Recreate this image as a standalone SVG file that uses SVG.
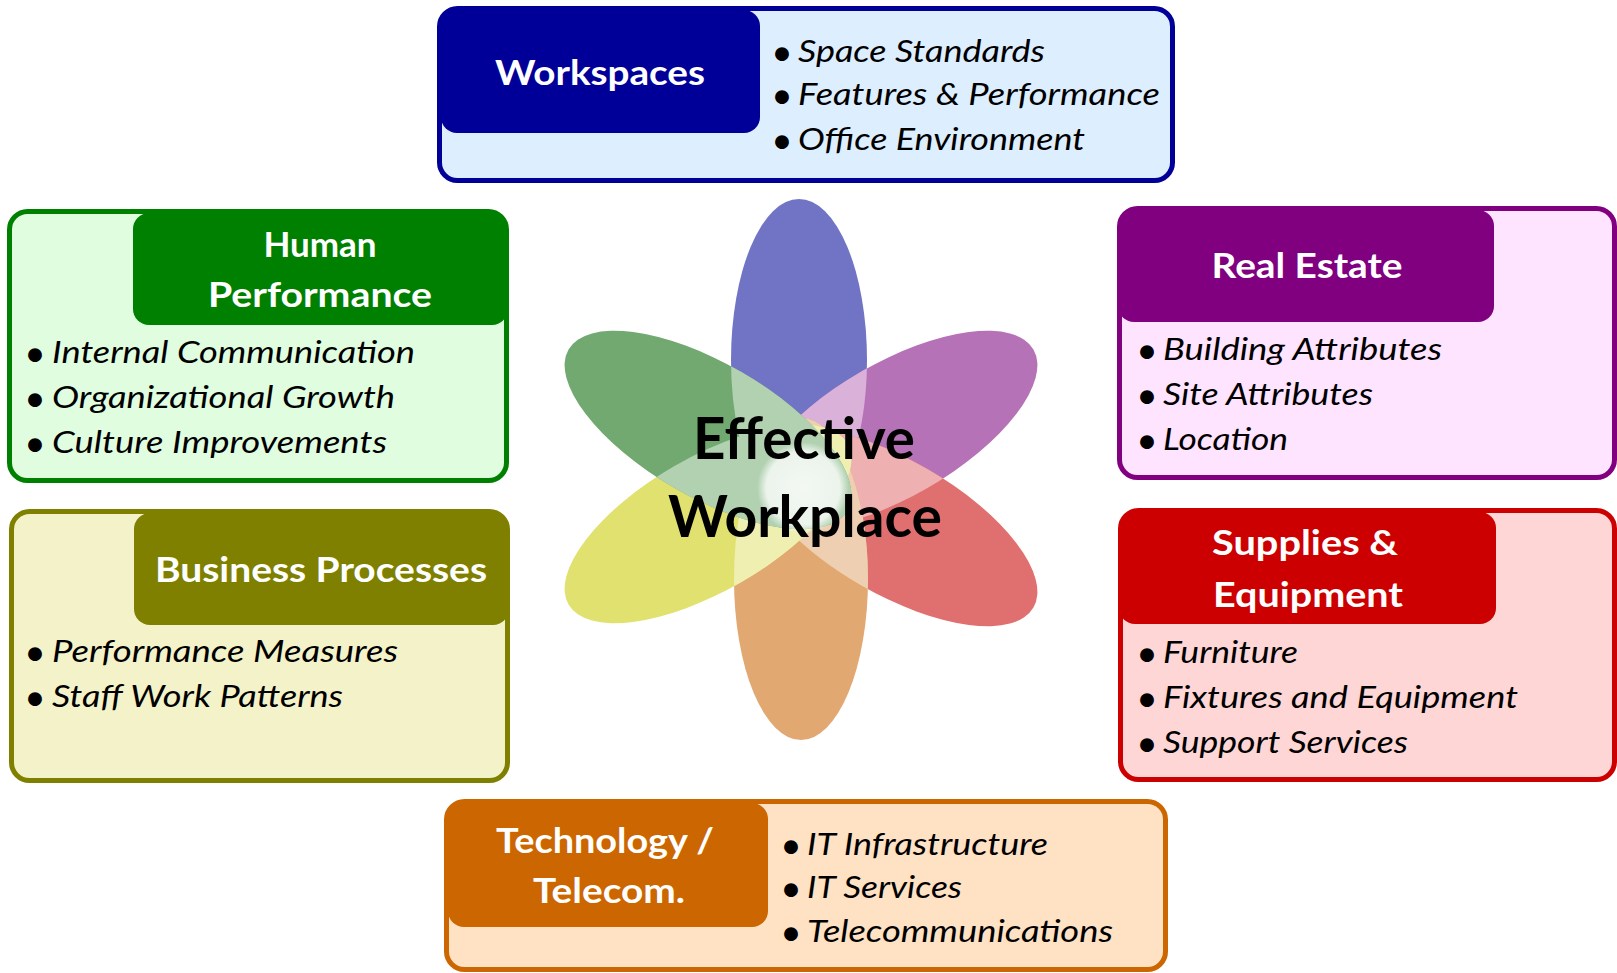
<svg xmlns="http://www.w3.org/2000/svg" xmlns:xlink="http://www.w3.org/1999/xlink" width="1617" height="973" viewBox="0 0 1617 973">
<style>
.box{stroke-width:5}
.hd{font-family:Lato,"Liberation Sans",sans-serif;font-weight:700;font-size:35px;fill:#fff;text-anchor:middle}
.it{font-family:Lato,"Liberation Sans",sans-serif;font-style:italic;font-size:31px;fill:#000}
.dot{font-family:Lato,"Liberation Sans",sans-serif;font-size:37px;fill:#000;text-anchor:middle}
.ctr{font-family:Lato,"Liberation Sans",sans-serif;font-weight:700;font-size:57px;fill:#000;text-anchor:middle}
</style>
<defs>
<ellipse id="pB" cx="799" cy="360" rx="68" ry="161"/>
<ellipse id="pP" cx="894" cy="430" rx="161" ry="67" transform="rotate(-30 894 430)"/>
<ellipse id="pR" cx="894" cy="527" rx="161" ry="67" transform="rotate(30 894 527)"/>
<ellipse id="pO" cx="801" cy="579" rx="67" ry="161"/>
<ellipse id="pY" cx="708" cy="524" rx="161" ry="67" transform="rotate(-30 708 524)"/>
<ellipse id="pG" cx="708" cy="430" rx="161" ry="67" transform="rotate(30 708 430)"/>
<clipPath id="cP"><use xlink:href="#pB"/></clipPath>
<clipPath id="cR"><use xlink:href="#pB"/><use xlink:href="#pP"/></clipPath>
<clipPath id="cO"><use xlink:href="#pB"/><use xlink:href="#pP"/><use xlink:href="#pR"/></clipPath>
<clipPath id="cY"><use xlink:href="#pB"/><use xlink:href="#pP"/><use xlink:href="#pR"/><use xlink:href="#pO"/></clipPath>
<clipPath id="cG"><use xlink:href="#pB"/><use xlink:href="#pP"/><use xlink:href="#pR"/><use xlink:href="#pO"/><use xlink:href="#pY"/></clipPath>
<radialGradient id="glow">
<stop offset="0" stop-color="#fff" stop-opacity="0.85"/>
<stop offset="0.8" stop-color="#fff" stop-opacity="0.75"/>
<stop offset="1" stop-color="#fff" stop-opacity="0"/>
</radialGradient>
</defs>
<rect width="1617" height="973" fill="#fff"/>

<g id="flower">
<use xlink:href="#pB" fill="#7174C4"/>
<use xlink:href="#pP" fill="#B672B6"/>
<use xlink:href="#pP" fill="#D9B1D9" clip-path="url(#cP)"/>
<use xlink:href="#pR" fill="#E07070"/>
<use xlink:href="#pR" fill="#EEB0B0" clip-path="url(#cR)"/>
<use xlink:href="#pO" fill="#E1A872"/>
<use xlink:href="#pO" fill="#EECFB1" clip-path="url(#cO)"/>
<use xlink:href="#pY" fill="#E1E170"/>
<use xlink:href="#pY" fill="#EFEFB1" clip-path="url(#cY)"/>
<use xlink:href="#pG" fill="#71A971"/>
<use xlink:href="#pG" fill="#B1D1B1" clip-path="url(#cG)"/>
<circle cx="803" cy="488" r="46" fill="url(#glow)"/>
<text class="ctr" x="804" y="459" textLength="222" lengthAdjust="spacingAndGlyphs">Effective</text>
<text class="ctr" x="805" y="537" textLength="274" lengthAdjust="spacingAndGlyphs">Workplace</text>
</g>

<g id="workspaces">
<rect x="439.5" y="8.5" width="733" height="172" rx="18" fill="#DDEEFF"/>
<rect x="441" y="10" width="319" height="123" rx="16" fill="#000099"/>
<rect class="box" x="439.5" y="8.5" width="733" height="172" rx="18" fill="none" stroke="#000099"/>
<text class="hd" x="600" y="85" textLength="210" lengthAdjust="spacingAndGlyphs">Workspaces</text>
<text class="dot" x="782" y="65">•</text>
<text class="it" x="798" y="62" textLength="247" lengthAdjust="spacingAndGlyphs">Space Standards</text>
<text class="dot" x="782" y="108">•</text>
<text class="it" x="798" y="105" textLength="362" lengthAdjust="spacingAndGlyphs">Features &amp; Performance</text>
<text class="dot" x="782" y="153">•</text>
<text class="it" x="798" y="150" textLength="287" lengthAdjust="spacingAndGlyphs">Office Environment</text>
</g>

<g id="human-performance">
<rect x="9.5" y="211.5" width="497" height="269" rx="18" fill="#E0FDE0"/>
<rect x="133" y="213" width="375" height="112" rx="16" fill="#008000"/>
<rect class="box" x="9.5" y="211.5" width="497" height="269" rx="18" fill="none" stroke="#008000"/>
<text class="hd" x="320" y="257">Human</text>
<text class="hd" x="320" y="307" textLength="224" lengthAdjust="spacingAndGlyphs">Performance</text>
<text class="dot" x="35" y="366">•</text>
<text class="it" x="52" y="363" textLength="363" lengthAdjust="spacingAndGlyphs">Internal Communication</text>
<text class="dot" x="35" y="411">•</text>
<text class="it" x="52" y="408" textLength="343" lengthAdjust="spacingAndGlyphs">Organizational Growth</text>
<text class="dot" x="35" y="456">•</text>
<text class="it" x="52" y="453" textLength="335" lengthAdjust="spacingAndGlyphs">Culture Improvements</text>
</g>

<g id="business-processes">
<rect x="11.5" y="511.5" width="496" height="269" rx="18" fill="#F3F2C9"/>
<rect x="134" y="513" width="375" height="112" rx="16" fill="#808000"/>
<rect class="box" x="11.5" y="511.5" width="496" height="269" rx="18" fill="none" stroke="#808000"/>
<text class="hd" x="321" y="582" textLength="332" lengthAdjust="spacingAndGlyphs">Business Processes</text>
<text class="dot" x="35" y="665">•</text>
<text class="it" x="52" y="662" textLength="346" lengthAdjust="spacingAndGlyphs">Performance Measures</text>
<text class="dot" x="35" y="710">•</text>
<text class="it" x="52" y="707" textLength="291" lengthAdjust="spacingAndGlyphs">Staff Work Patterns</text>
</g>

<g id="real-estate">
<rect x="1119.5" y="208.5" width="495" height="269" rx="18" fill="#FFE4FF"/>
<rect x="1118" y="210" width="376" height="112" rx="16" fill="#800080"/>
<rect class="box" x="1119.5" y="208.5" width="495" height="269" rx="18" fill="none" stroke="#800080"/>
<text class="hd" x="1307" y="278" textLength="191" lengthAdjust="spacingAndGlyphs">Real Estate</text>
<text class="dot" x="1147" y="363">•</text>
<text class="it" x="1163" y="360" textLength="279" lengthAdjust="spacingAndGlyphs">Building Attributes</text>
<text class="dot" x="1147" y="408">•</text>
<text class="it" x="1163" y="405" textLength="210" lengthAdjust="spacingAndGlyphs">Site Attributes</text>
<text class="dot" x="1147" y="453">•</text>
<text class="it" x="1163" y="450" textLength="125" lengthAdjust="spacingAndGlyphs">Location</text>
</g>

<g id="supplies-equipment">
<rect x="1120.5" y="510.5" width="494" height="269" rx="18" fill="#FFD6D6"/>
<rect x="1119" y="512" width="377" height="112" rx="16" fill="#CC0000"/>
<rect class="box" x="1120.5" y="510.5" width="494" height="269" rx="18" fill="none" stroke="#CC0000"/>
<text class="hd" x="1305" y="555" textLength="186" lengthAdjust="spacingAndGlyphs">Supplies &amp;</text>
<text class="hd" x="1308" y="607" textLength="190" lengthAdjust="spacingAndGlyphs">Equipment</text>
<text class="dot" x="1147" y="666">•</text>
<text class="it" x="1163" y="663" textLength="135" lengthAdjust="spacingAndGlyphs">Furniture</text>
<text class="dot" x="1147" y="711">•</text>
<text class="it" x="1163" y="708" textLength="355" lengthAdjust="spacingAndGlyphs">Fixtures and Equipment</text>
<text class="dot" x="1147" y="756">•</text>
<text class="it" x="1163" y="753" textLength="245" lengthAdjust="spacingAndGlyphs">Support Services</text>
</g>

<g id="technology-telecom">
<rect x="446.5" y="801.5" width="719" height="168" rx="18" fill="#FFE1C4"/>
<rect x="448" y="803" width="320" height="124" rx="16" fill="#CC6600"/>
<rect class="box" x="446.5" y="801.5" width="719" height="168" rx="18" fill="none" stroke="#CC6600"/>
<text class="hd" x="605" y="853" textLength="218" lengthAdjust="spacingAndGlyphs">Technology /</text>
<text class="hd" x="609" y="903" textLength="152" lengthAdjust="spacingAndGlyphs">Telecom.</text>
<text class="dot" x="791" y="858">•</text>
<text class="it" x="807" y="855" textLength="241" lengthAdjust="spacingAndGlyphs">IT Infrastructure</text>
<text class="dot" x="791" y="901">•</text>
<text class="it" x="807" y="898" textLength="155" lengthAdjust="spacingAndGlyphs">IT Services</text>
<text class="dot" x="791" y="945">•</text>
<text class="it" x="807" y="942" textLength="306" lengthAdjust="spacingAndGlyphs">Telecommunications</text>
</g>

<g id="connectors"/>
</svg>
